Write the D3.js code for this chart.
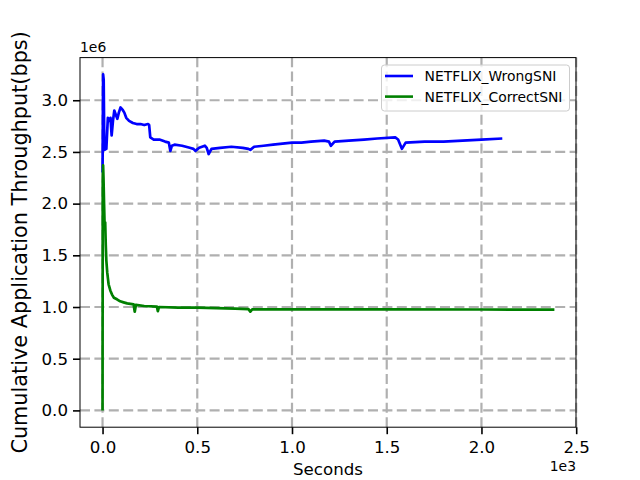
<!DOCTYPE html>
<html><head><meta charset="utf-8">
<script src="https://cdn.jsdelivr.net/npm/d3@7"></script>
<style>body{margin:0;background:#fff}text{font-family:"DejaVu Sans",sans-serif}</style>
</head><body><svg id="c" width="640" height="480"></svg>
<script>
// seconds
const wrongT = [0,3,6,9,12,16,20,28,35,42,48,55,62,70,78,86,95,105,115,125,140,160,180,200,220,240,246,252,270,300,330,350,358,366,380,420,460,480,490,510,540,550,560,575,620,680,740,770,780,800,850,900,950,1000,1050,1100,1170,1195,1205,1225,1300,1380,1450,1545,1560,1580,1600,1700,1800,1900,2000,2110];
// bps (x1e6)
const wrongV = [2.30,3.25,3.20,2.60,2.52,2.56,2.53,2.83,2.80,2.83,2.66,2.80,2.90,2.86,2.82,2.88,2.93,2.91,2.88,2.83,2.80,2.78,2.77,2.77,2.76,2.77,2.76,2.64,2.62,2.62,2.60,2.59,2.51,2.56,2.57,2.56,2.54,2.53,2.51,2.54,2.56,2.54,2.48,2.53,2.54,2.55,2.54,2.53,2.52,2.55,2.56,2.57,2.58,2.59,2.59,2.60,2.61,2.60,2.56,2.60,2.61,2.62,2.63,2.64,2.62,2.53,2.59,2.60,2.60,2.61,2.62,2.63];
const correctT = [0,1,3,5,8,11,14,17,20,25,32,41,50,60,76,93,111,130,164,170,176,220,287,292,298,400,500,600,700,770,780,790,1000,1500,2000,2385];
const correctV = [0,2.20,2.37,2.25,2.00,1.78,1.82,1.60,1.45,1.33,1.22,1.16,1.12,1.09,1.075,1.055,1.045,1.035,1.025,0.955,1.02,1.01,1.003,0.96,1.0,0.995,0.995,0.99,0.985,0.98,0.955,0.978,0.977,0.977,0.976,0.975];
const seriesNames = ["NETFLIX_WrongSNI","NETFLIX_CorrectSNI"];
const seriesColors = ["#0000ff","#008000"];
const xTicks = [0,500,1000,1500,2000,2500];
const xTickLabels = ["0.0","0.5","1.0","1.5","2.0","2.5"];
const yTicks = [0,0.5e6,1e6,1.5e6,2e6,2.5e6,3e6];
const yTickLabels = ["0.0","0.5","1.0","1.5","2.0","2.5","3.0"];

const L=80,R=576,T=57.6,B=427.2;
const svg=d3.select("#c");
const x=d3.scaleLinear().domain([-119,2499]).range([L,R]);
const y=d3.scaleLinear().domain([-0.1625e6,3.4125e6]).range([B,T]);

// grid
const grid=svg.append("g").attr("stroke","#b0b0b0").attr("stroke-width",2.2).attr("stroke-dasharray","10,4.4");
grid.selectAll(".gx").data(xTicks).join("line").attr("x1",d=>x(d)).attr("x2",d=>x(d)).attr("y1",B).attr("y2",T);
grid.selectAll(".gy").data(yTicks).join("line").attr("y1",d=>y(d)).attr("y2",d=>y(d)).attr("x1",L).attr("x2",R);

// lines
const series=[wrongT.map((t,i)=>[t,wrongV[i]*1e6]), correctT.map((t,i)=>[t,correctV[i]*1e6])];
const line=d3.line().x(d=>x(d[0])).y(d=>y(d[1]));
svg.append("clipPath").attr("id","cp").append("rect").attr("x",L).attr("y",T).attr("width",R-L).attr("height",B-T);
series.forEach((s,i)=>{
  svg.append("path").datum(s).attr("d",line).attr("fill","none").attr("stroke",seriesColors[i]).attr("stroke-width",2.7).attr("stroke-linejoin","round").attr("clip-path","url(#cp)");
});

// axes
const xa=svg.append("g").attr("transform",`translate(0,${B})`).call(d3.axisBottom(x).tickValues(xTicks).tickFormat((d,i)=>xTickLabels[i]).tickSize(7).tickPadding(7));
const ya=svg.append("g").attr("transform",`translate(${L},0)`).call(d3.axisLeft(y).tickValues(yTicks).tickFormat((d,i)=>yTickLabels[i]).tickSize(7).tickPadding(5));
[xa,ya].forEach(a=>{a.select(".domain").remove();a.selectAll("line").attr("stroke","#000").attr("stroke-width",1.6);a.selectAll("text").attr("font-size","16.67px").attr("fill","#000").attr("font-family","DejaVu Sans");});
svg.append("rect").attr("x",L).attr("y",T).attr("width",R-L).attr("height",B-T).attr("fill","none").attr("stroke","#000").attr("stroke-width",1);

// labels
svg.append("text").attr("x",(L+R)/2).attr("y",474.5).attr("text-anchor","middle").attr("font-size","16.67px").text("Seconds");
svg.append("text").attr("x",R).attr("y",471).attr("text-anchor","end").attr("font-size","13.9px").text("1e3");
svg.append("text").attr("x",L).attr("y",52).attr("text-anchor","start").attr("font-size","13.9px").text("1e6");
svg.append("text").attr("transform",`translate(27,${(T+B)/2}) rotate(-90)`).attr("text-anchor","middle").attr("font-size","20.8px").text("Cumulative Application Throughput(bps)");

// legend
const lg=svg.append("g");
lg.append("rect").attr("x",381.5).attr("y",65).attr("width",188).attr("height",46).attr("rx",3).attr("fill","#fff").attr("fill-opacity",0.8).attr("stroke","#cccccc");
seriesNames.forEach((n,i)=>{
  const yy=76+i*20.6;
  lg.append("line").attr("x1",385).attr("x2",413).attr("y1",yy).attr("y2",yy).attr("stroke",seriesColors[i]).attr("stroke-width",2.6);
  lg.append("text").attr("x",424.5).attr("y",yy).attr("dy","0.36em").attr("font-size","13.9px").text(n);
});
</script></body></html>
